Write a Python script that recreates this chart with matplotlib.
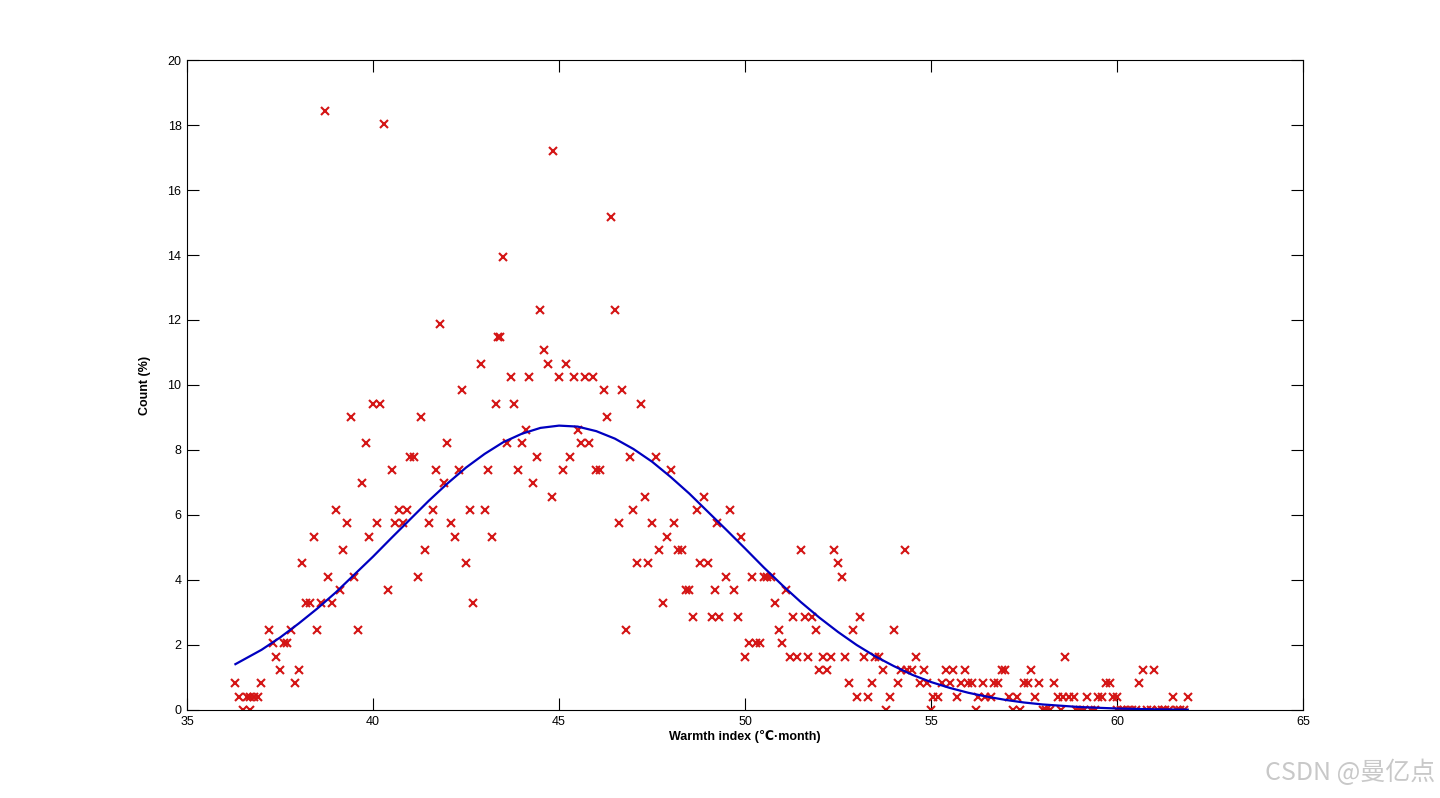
import numpy as np
import matplotlib
matplotlib.use('Agg')
import matplotlib.pyplot as plt

# scatter points (warmth index, count %)
warmth = [36.3, 36.4, 36.5, 36.6, 36.7, 36.7, 36.8, 36.9, 37.0, 37.2,
          37.3, 37.4, 37.5, 37.6, 37.7, 37.8, 37.9, 38.0, 38.1, 38.2,
          38.3, 38.4, 38.5, 38.6, 38.7, 38.8, 38.9, 39.0, 39.1, 39.2,
          39.3, 39.4, 39.5, 39.6, 39.7, 39.8, 39.9, 40.0, 40.1, 40.2,
          40.3, 40.4, 40.5, 40.6, 40.7, 40.8, 40.9, 41.0, 41.1, 41.2,
          41.3, 41.4, 41.5, 41.6, 41.7, 41.8, 41.9, 42.0, 42.1, 42.2,
          42.3, 42.4, 42.5, 42.6, 42.7, 42.9, 43.0, 43.1, 43.2, 43.3,
          43.35, 43.4, 43.5, 43.6, 43.7, 43.8, 43.9, 44.0, 44.1, 44.2,
          44.3, 44.4, 44.5, 44.6, 44.7, 44.8, 44.85, 45.0, 45.1, 45.2,
          45.3, 45.4, 45.5, 45.6, 45.7, 45.8, 45.9, 46.0, 46.1, 46.2,
          46.3, 46.4, 46.5, 46.6, 46.7, 46.8, 46.9, 47.0, 47.1, 47.2,
          47.3, 47.4, 47.5, 47.6, 47.7, 47.8, 47.9, 48.0, 48.1, 48.2,
          48.3, 48.4, 48.5, 48.6, 48.7, 48.8, 48.9, 49.0, 49.1, 49.2,
          49.25, 49.3, 49.5, 49.6, 49.7, 49.8, 49.9, 50.0, 50.1, 50.2,
          50.3, 50.4, 50.5, 50.6, 50.7, 50.8, 50.9, 51.0, 51.1, 51.2,
          51.3, 51.4, 51.5, 51.6, 51.7, 51.8, 51.9, 52.0, 52.1, 52.2,
          52.3, 52.4, 52.5, 52.6, 52.7, 52.8, 52.9, 53.0, 53.1, 53.2,
          53.3, 53.4, 53.5, 53.6, 53.7, 53.8, 53.9, 54.0, 54.1, 54.2,
          54.3, 54.35, 54.5, 54.6, 54.7, 54.8, 54.9, 55.0, 55.05, 55.2,
          55.3, 55.4, 55.5, 55.6, 55.7, 55.8, 55.9, 56.0, 56.1, 56.2,
          56.25, 56.4, 56.45, 56.6, 56.7, 56.8, 56.9, 57.0, 57.1, 57.2,
          57.3, 57.4, 57.5, 57.6, 57.7, 57.8, 57.9, 58.0, 58.1, 58.2,
          58.3, 58.4, 58.5, 58.55, 58.6, 58.7, 58.85, 58.9, 59.0, 59.1,
          59.2, 59.3, 59.4, 59.5, 59.6, 59.7, 59.8, 59.9, 60.0, 60.0,
          60.1, 60.2, 60.3, 60.4, 60.5, 60.6, 60.7, 60.8, 60.9, 61.0,
          61.1, 61.2, 61.3, 61.4, 61.5, 61.6, 61.7, 61.8, 61.9]

count = [0.82, 0.41, 0.00, 0.41, 0.00, 0.41, 0.41, 0.41, 0.82, 2.46,
         2.05, 1.64, 1.23, 2.05, 2.05, 2.46, 0.82, 1.23, 4.51, 3.28,
         3.28, 5.33, 2.46, 3.28, 18.44, 4.10, 3.28, 6.15, 3.69, 4.92,
         5.74, 9.02, 4.10, 2.46, 6.97, 8.20, 5.33, 9.43, 5.74, 9.43,
         18.03, 3.69, 7.38, 5.74, 6.15, 5.74, 6.15, 7.79, 7.79, 4.10,
         9.02, 4.92, 5.74, 6.15, 7.38, 11.89, 6.97, 8.20, 5.74, 5.33,
         7.38, 9.84, 4.51, 6.15, 3.28, 10.66, 6.15, 7.38, 5.33, 9.43,
         11.48, 11.48, 13.93, 8.20, 10.25, 9.43, 7.38, 8.20, 8.61, 10.25,
         6.97, 7.79, 12.30, 11.07, 10.66, 6.56, 17.21, 10.25, 7.38, 10.66,
         7.79, 10.25, 8.61, 8.20, 10.25, 8.20, 10.25, 7.38, 7.38, 9.84,
         9.02, 15.16, 12.30, 5.74, 9.84, 2.46, 7.79, 6.15, 4.51, 9.43,
         6.56, 4.51, 5.74, 7.79, 4.92, 3.28, 5.33, 7.38, 5.74, 4.92,
         4.92, 3.69, 3.69, 2.87, 6.15, 4.51, 6.56, 4.51, 2.87, 3.69,
         5.74, 2.87, 4.10, 6.15, 3.69, 2.87, 5.33, 1.64, 2.05, 4.10,
         2.05, 2.05, 4.10, 4.10, 4.10, 3.28, 2.46, 2.05, 3.69, 1.64,
         2.87, 1.64, 4.92, 2.87, 1.64, 2.87, 2.46, 1.23, 1.64, 1.23,
         1.64, 4.92, 4.51, 4.10, 1.64, 0.82, 2.46, 0.41, 2.87, 1.64,
         0.41, 0.82, 1.64, 1.64, 1.23, 0.00, 0.41, 2.46, 0.82, 1.23,
         4.92, 1.23, 1.23, 1.64, 0.82, 1.23, 0.82, 0.00, 0.41, 0.41,
         0.82, 1.23, 0.82, 1.23, 0.41, 0.82, 1.23, 0.82, 0.82, 0.00,
         0.41, 0.82, 0.41, 0.41, 0.82, 0.82, 1.23, 1.23, 0.41, 0.00,
         0.41, 0.00, 0.82, 0.82, 1.23, 0.41, 0.82, 0.00, 0.00, 0.00,
         0.82, 0.41, 0.00, 0.41, 1.64, 0.41, 0.41, 0.00, 0.00, 0.00,
         0.41, 0.00, 0.00, 0.41, 0.41, 0.82, 0.82, 0.41, 0.41, 0.00,
         0.00, 0.00, 0.00, 0.00, 0.00, 0.82, 1.23, 0.00, 0.00, 1.23,
         0.00, 0.00, 0.00, 0.00, 0.41, 0.00, 0.00, 0.00, 0.41]

# fitted curve
fit_x = [36.3, 37, 37.5, 38, 38.5, 39, 39.5, 40, 40.5, 41, 41.5, 42, 42.5,
         43, 43.5, 44, 44.5, 45, 45.5, 46, 46.5, 47, 47.5, 48, 48.5, 49,
         49.5, 50, 50.5, 51, 51.5, 52, 52.5, 53, 53.5, 54, 54.5, 55, 55.5,
         56, 56.5, 57, 57.5, 58, 59, 60, 61, 61.9]
fit_y = [1.41, 1.85, 2.23, 2.66, 3.12, 3.62, 4.17, 4.72, 5.30, 5.87, 6.44,
         6.97, 7.46, 7.88, 8.24, 8.50, 8.68, 8.75, 8.72, 8.58, 8.35, 8.03,
         7.64, 7.17, 6.66, 6.10, 5.54, 4.97, 4.39, 3.84, 3.32, 2.84, 2.40,
         2.00, 1.65, 1.35, 1.08, 0.86, 0.68, 0.53, 0.41, 0.31, 0.23, 0.17,
         0.09, 0.045, 0.02, 0.01]

plt.rcParams['font.family'] = ['Liberation Sans', 'DejaVu Sans']

fig = plt.figure(figsize=(14.4, 7.98), dpi=100)
ax = fig.add_axes([0.1299, 0.1103, 0.775, 0.8145])

ax.plot(warmth, count, 'x', color='#d41515', markersize=6, markeredgewidth=1.5)
ax.plot(fit_x, fit_y, '-', color='#0000c0', linewidth=1.6)

ax.set_xlim(35, 65)
ax.set_ylim(0, 20)
ax.set_xticks(np.arange(35, 66, 5))
ax.set_yticks(np.arange(0, 21, 2))
ax.tick_params(direction='in', length=8.5, width=0.8, labelsize=9,
               top=True, right=True, pad=4)
for s in ax.spines.values():
    s.set_linewidth(0.8)

ax.set_xlabel('Warmth index (℃·month)', fontsize=9, fontweight='bold', labelpad=2)
ax.set_ylabel('Count (%)', fontsize=9, fontweight='bold', labelpad=12)

fig.text(0.997, 0.032, 'CSDN @曼亿点', ha='right', va='center', fontsize=18,
         color='#c8c8c8', family=['Noto Sans CJK SC', 'DejaVu Sans'])

fig.savefig('out.png', dpi=100)
